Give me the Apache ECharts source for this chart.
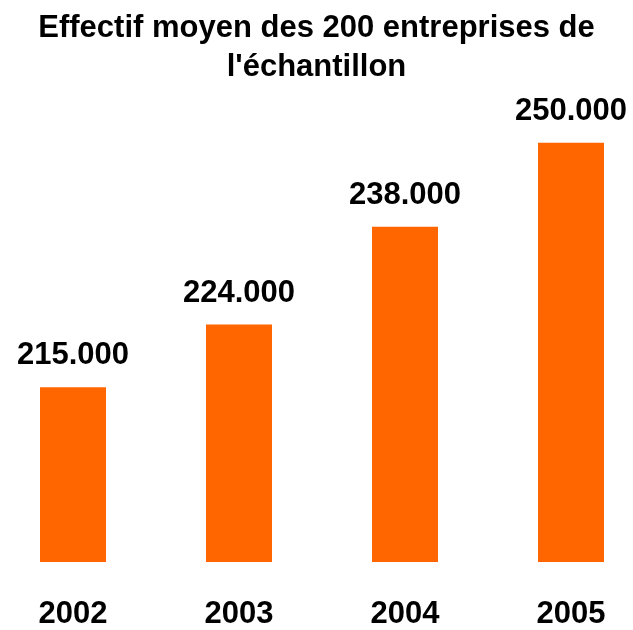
<!DOCTYPE html>
<html>
<head>
<meta charset="utf-8">
<script src="https://cdn.jsdelivr.net/npm/echarts@6/dist/echarts.min.js"></script>
<style>html,body{margin:0;padding:0;background:#fff}#c{width:633px;height:630px}</style>
</head>
<body>
<div id="c"></div>
<script>
const categories = ['2002', '2003', '2004', '2005'];
const values = [215, 224, 238, 250];
const valueLabels = ['215.000', '224.000', '238.000', '250.000'];
const titleText = "Effectif moyen des 200 entreprises de\nl'échantillon";

const chart = echarts.init(document.getElementById('c'));
const font = '"Liberation Sans", Arial, sans-serif';
chart.setOption({
  animation: false,
  title: {
    text: titleText,
    left: 'center',
    top: 4,
    textStyle: { fontFamily: font, fontWeight: 'bold', fontSize: 31, lineHeight: 39, color: '#000' }
  },
  grid: { left: 73, right: 62, top: 73, bottom: 61, containLabel: false },
  xAxis: {
    type: 'category',
    data: categories,
    boundaryGap: false,
    axisLine: { show: false },
    axisTick: { show: false },
    axisLabel: { fontFamily: font, fontWeight: 'bold', fontSize: 31, color: '#000', margin: 37 }
  },
  yAxis: {
    type: 'value',
    min: 190,
    max: 260,
    show: false,
    splitLine: { show: false }
  },
  series: [{
    type: 'bar',
    data: values,
    barWidth: 66,
    itemStyle: { color: '#FF6600' },
    label: {
      show: true,
      position: 'top',
      distance: 16,
      fontFamily: font,
      fontWeight: 'bold',
      fontSize: 31,
      color: '#000',
      formatter: p => valueLabels[p.dataIndex]
    }
  }]
});
</script>
</body>
</html>
